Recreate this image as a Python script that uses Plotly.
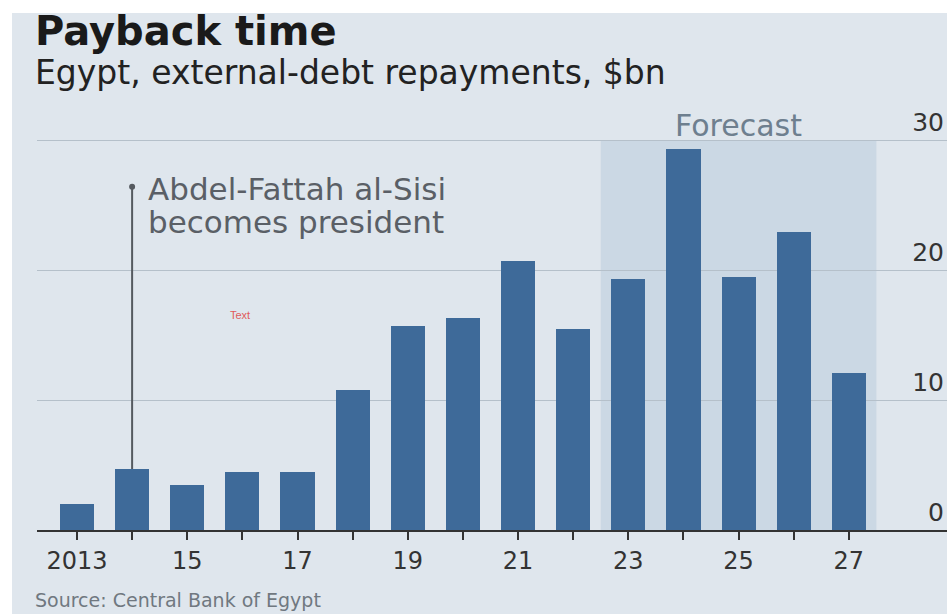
import plotly.graph_objects as go

# ---- data ----
years = list(range(2013, 2028))
repayments = [2.0, 4.7, 3.5, 4.5, 4.5, 10.8, 15.7, 16.3, 20.7, 15.5, 19.3, 29.3, 19.5, 22.9, 12.1]
tick_vals = list(range(2013, 2028))
tick_text = ["2013", "", "15", "", "17", "", "19", "", "21", "", "23", "", "25", "", "27"]
y_ticks = [0, 10, 20, 30]
forecast_start, forecast_end = 2022.5, 2027.5
sisi_year = 2014
sisi_top = 26.4

BG = "#dfe6ed"
SHADE = "#cbd8e4"
BAR = "#3e6a99"
GRID = "#b5c0ca"
FONT = "DejaVu Sans"

fig = go.Figure()
fig.add_trace(go.Bar(x=years, y=repayments, marker=dict(color=BAR, line=dict(width=0)),
                     width=0.62, hoverinfo="x+y"))

sisi_val = repayments[years.index(sisi_year)]
fig.add_trace(go.Scatter(x=[sisi_year, sisi_year], y=[sisi_val, sisi_top], mode="lines",
                         line=dict(color="#555a60", width=2), hoverinfo="skip"))
fig.add_trace(go.Scatter(x=[sisi_year], y=[sisi_top], mode="markers",
                         marker=dict(color="#555a60", size=6), hoverinfo="skip"))

# plot area geometry (pixels): y=0 at 530, 13 px per unit
YMAX = 34
L, W = 37, 910
BOTTOM = 530
H = 13 * YMAX
T = BOTTOM - H

def px_x(px):
    return (px - L) / W

def px_y(py):
    return (BOTTOM - py) / H

fig.add_shape(type="rect", xref="paper", yref="paper", x0=px_x(12), x1=1.02,
              y0=px_y(620), y1=px_y(13), fillcolor=BG, line=dict(width=0), layer="below")
fig.add_shape(type="rect", xref="x", yref="y", x0=forecast_start, x1=forecast_end,
              y0=0, y1=30, fillcolor=SHADE, line=dict(width=0), layer="below")

fig.update_layout(
    width=947, height=614,
    margin=dict(l=L, r=0, t=T, b=614 - BOTTOM),
    paper_bgcolor="white", plot_bgcolor="rgba(0,0,0,0)",
    showlegend=False, bargap=0,
    font=dict(family=FONT, color="#222"),
)
fig.update_xaxes(range=[2012.275, 2028.78], tickvals=tick_vals, ticktext=tick_text,
                 ticks="outside", ticklen=8, tickwidth=2, tickcolor="#333",
                 showline=True, linecolor="#333", linewidth=2, showgrid=False,
                 tickfont=dict(size=24, color="#333", family=FONT), zeroline=False)
fig.update_yaxes(range=[0, YMAX], tickvals=y_ticks, side="right", ticklabelposition="inside top",
                 showgrid=True, gridcolor=GRID, gridwidth=1, zeroline=False,
                 tickfont=dict(size=25, color="#333", family=FONT), ticks="")

ann = []
ann.append(dict(text="<b>Payback time</b>", xref="paper", yref="paper", x=px_x(33), y=px_y(31),
                xanchor="left", yanchor="middle", showarrow=False,
                font=dict(size=40, color="#1a1a1a", family=FONT)))
ann.append(dict(text="Egypt, external-debt repayments, $bn", xref="paper", yref="paper",
                x=px_x(33), y=px_y(73), xanchor="left", yanchor="middle", showarrow=False,
                font=dict(size=33, color="#222", family=FONT)))
ann.append(dict(text="Source: Central Bank of Egypt", xref="paper", yref="paper",
                x=px_x(33), y=px_y(600), xanchor="left", yanchor="middle", showarrow=False,
                font=dict(size=19, color="#707880", family=FONT)))
ann.append(dict(text="Forecast", xref="x", yref="paper", x=2025, y=px_y(125),
                xanchor="center", yanchor="middle", showarrow=False,
                font=dict(size=30, color="#6e7f8f", family=FONT)))
ann.append(dict(text="Abdel-Fattah al-Sisi", xref="x", yref="paper", x=2014.25, y=px_y(189),
                xanchor="left", yanchor="middle", showarrow=False,
                font=dict(size=31, color="#5a5f66", family=FONT)))
ann.append(dict(text="becomes president", xref="x", yref="paper", x=2014.25, y=px_y(222),
                xanchor="left", yanchor="middle", showarrow=False,
                font=dict(size=31, color="#5a5f66", family=FONT)))
ann.append(dict(text="Text", xref="paper", yref="paper", x=px_x(240), y=px_y(315),
                xanchor="center", yanchor="middle", showarrow=False,
                font=dict(size=11, color="#e05a5a", family="Liberation Sans")))
fig.update_layout(annotations=ann)

fig.write_html("out.html", config={"displayModeBar": False},
               post_script="document.body.style.margin='0';document.body.style.overflow='hidden';")
